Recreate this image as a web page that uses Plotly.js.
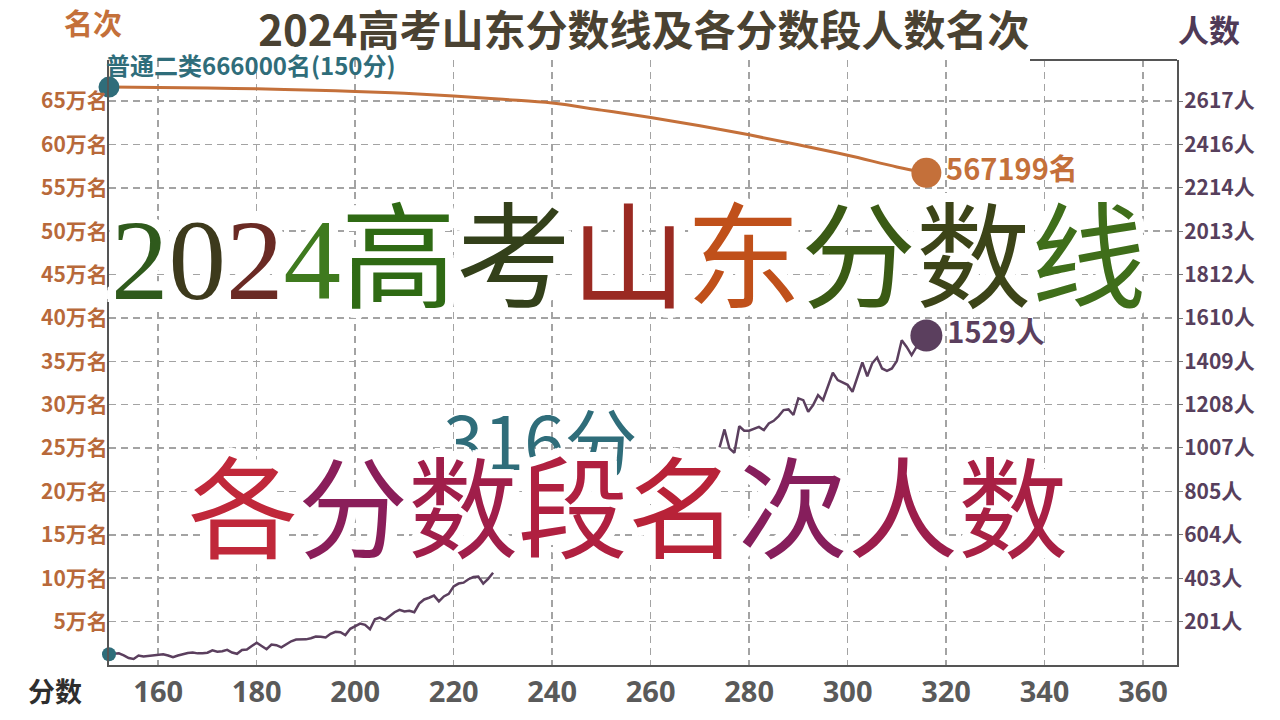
<!DOCTYPE html>
<html>
<head>
<meta charset="utf-8">
<script src="https://cdn.plot.ly/plotly-3.0.1.min.js"></script>
<style>
html,body{margin:0;padding:0;background:#fff;}
#chart{width:1280px;height:720px;}
</style>
</head>
<body>
<div id="chart"></div>
<script>
// ---------- data ----------
const scoresA = [150,151,152,153,154,155,156,157,158,159,160,161,162,163,164,165,166,167,168,169,
  170,171,172,173,174,175,176,177,178,179,180,181,182,183,184,185,186,187,188,189,
  190,191,192,193,194,195,196,197,198,199,200,201,202,203,204,205,206,207,208,209,
  210,211,212,213,214,215,216,217,218,219,220,221,222,223,224,225,226,227,228];
const countsA = [50,52,54,45,32,28,44,40,42,43,45,50,44,36,44,51,56,58,54,55,
  57,68,62,64,70,58,52,70,72,88,103,88,73,95,92,82,98,110,118,119,
  119,124,132,131,128,145,154,152,139,168,180,192,186,166,212,220,209,228,245,256,
  248,252,245,285,304,312,322,295,318,330,365,378,382,398,408,410,378,400,428];
const scoresB = [274,275,276,277,278,279,280,281,282,283,284,285,286,287,288,289,290,291,292,293,
  294,295,296,297,298,299,300,301,302,303,304,305,306,307,308,309,310,311,312,313,314,315,316];
const countsB = [1010,1093,1005,985,1108,1087,1087,1095,1105,1090,1121,1133,1155,1183,1186,1160,1237,1229,1175,1206,
  1252,1229,1290,1356,1322,1310,1300,1268,1340,1404,1340,1400,1427,1376,1365,1376,1411,1507,1476,1438,1476,1470,1529];
const rankScores = [150,160,170,180,190,200,210,220,230,240,250,260,270,280,290,300,310,316];
const rankValues = [666000,665500,664900,664000,662700,661000,658800,655800,651900,647600,639500,631000,621500,611000,599500,587500,574000,567199];
const xTicks = [160,180,200,220,240,260,280,300,320,340,360];
const leftTickVals = [50000,100000,150000,200000,250000,300000,350000,400000,450000,500000,550000,600000,650000];
const leftTickText = ['5万名','10万名','15万名','20万名','25万名','30万名','35万名','40万名','45万名','50万名','55万名','60万名','65万名'];
const rightTickVals = [201,403,604,805,1007,1208,1409,1610,1812,2013,2214,2416,2617];
const rightTickText = ['201人','403人','604人','805人','1007人','1208人','1409人','1610人','1812人','2013人','2214人','2416人','2617人'];
const titleText = '2024高考山东分数线及各分数段人数名次';
const bigLine1 = ['2','0','2','4','高','考','山','东','分','数','线'];
const bigLine2 = ['各','分','数','段','名','次','人','数'];

// ---------- styling ----------
const C_RANK = '#c4703a', C_TEAL = '#2f6d7a', C_COUNT = '#5b3f5e', C_LEFT = '#b8693a', C_RIGHT = '#573f5c';
const colors1 = ['#2f5a1c','#3d3a1c','#6a2a24','#3f7a1e','#2f6a14','#33401a','#9a2a22','#c0501a','#3a5a14','#3c4418','#3f6e1a'];
const colors2 = ['#c0283a','#8a1e5a','#a01e4a','#b02040','#b82238','#861e5c','#9c1e4c','#a82044'];
const CJK = '"Noto Sans CJK SC", "Noto Sans", sans-serif';

// plot area in pixels: x 109..1177, y 60..665
const PL = 109, PR = 1177, PT = 60, PB = 665;
const px = x => (x - PL) / (PR - PL);
const py = y => (PB - y) / (PB - PT);

function halo(r) {
  const s = [];
  [r, r * 0.6].forEach(rr => {
    for (let a = 0; a < 360; a += 20) {
      const t = a * Math.PI / 180;
      s.push((rr * Math.cos(t)).toFixed(1) + 'px ' + (rr * Math.sin(t)).toFixed(1) + 'px 0 #fff');
    }
  });
  return s.join(', ');
}
const spanLine = (chars, cols) => chars.map((c, i) => {
  const serif = /[0-9]/.test(c) ? 'font-family:Liberation Serif,DejaVu Serif,serif;' : '';
  return '<span style="' + serif + 'color:' + cols[i] + '">' + c + '</span>';
}).join('');

const lastB = scoresB.length - 1;
const lastR = rankValues.length - 1;

const traces = [
  {x: rankScores, y: rankValues, mode: 'lines', line: {color: C_RANK, width: 3, shape: 'spline', smoothing: 1}, yaxis: 'y', hoverinfo: 'skip'},
  {x: scoresA, y: countsA, mode: 'lines', line: {color: C_COUNT, width: 2.5}, yaxis: 'y2', hoverinfo: 'skip'},
  {x: scoresB, y: countsB, mode: 'lines', line: {color: C_COUNT, width: 2.5}, yaxis: 'y2', hoverinfo: 'skip'},
  {x: [rankScores[0]], y: [rankValues[0]], mode: 'markers', marker: {color: C_TEAL, size: 21}, yaxis: 'y', cliponaxis: false},
  {x: [rankScores[lastR]], y: [rankValues[lastR]], mode: 'markers+text', marker: {color: C_RANK, size: 30},
   text: [rankValues[lastR] + '名'], textposition: 'middle right', cliponaxis: false,
   textfont: {family: CJK, size: 29, color: C_RANK, weight: 700}, yaxis: 'y'},
  {x: [scoresA[0]], y: [countsA[0]], mode: 'markers', marker: {color: C_TEAL, size: 14}, yaxis: 'y2', cliponaxis: false},
  {x: [scoresB[lastB]], y: [countsB[lastB]], mode: 'markers+text', marker: {color: C_COUNT, size: 32},
   text: [countsB[lastB] + '人'], textposition: 'middle right', cliponaxis: false,
   textfont: {family: CJK, size: 29, color: C_COUNT, weight: 700}, yaxis: 'y2'}
];

const grid = {showgrid: true, gridcolor: '#a3a3a3', gridwidth: 1.5, griddash: '7px,5px', zeroline: false};

const layout = {
  width: 1280, height: 720,
  margin: {l: PL, r: 1280 - PR, t: PT, b: 720 - PB},
  paper_bgcolor: '#fff', plot_bgcolor: '#fff',
  showlegend: false,
  title: {text: titleText, x: 0.503, xref: 'container', y: 1 - 31 / 720, yref: 'container', yanchor: 'middle', xanchor: 'center',
          font: {family: CJK, size: 42, color: '#4a4232', weight: 700}},
  xaxis: Object.assign({}, grid, {range: [150, 366.9], tickvals: xTicks, ticks: '', showline: true, linecolor: '#555', linewidth: 2,
    tickfont: {family: '"Liberation Sans Narrow", "Open Sans", sans-serif', size: 29, color: '#5a5a5a', weight: 700}}),
  yaxis: Object.assign({}, grid, {range: [0, 697250], tickvals: leftTickVals, ticktext: leftTickText, ticks: '', showline: true,
    linecolor: '#555', linewidth: 2, ticklabelstandoff: -5,
    tickfont: {family: CJK, size: 21, color: C_LEFT, weight: 700}}),
  yaxis2: {overlaying: 'y', side: 'right', range: [0, 697250 * 2617 / 650000], tickvals: rightTickVals, ticktext: rightTickText,
    showgrid: false, zeroline: false, showline: true, linecolor: '#555', linewidth: 2, ticks: 'outside', ticklen: 4, tickcolor: '#777',
    ticklabelstandoff: -3,
    tickfont: {family: CJK, size: 21, color: C_RIGHT, weight: 700}},
  shapes: [
    {type: 'line', xref: 'paper', yref: 'paper', x0: px(1030), x1: 1, y0: 1, y1: 1, line: {color: '#555', width: 2}}
  ],
  annotations: [
    {xref: 'x', yref: 'y', x: rankScores[0], y: rankValues[0], text: '普通二类' + rankValues[0] + '名(' + rankScores[0] + '分)',
     showarrow: false, xanchor: 'left', yanchor: 'bottom', xshift: -5, yshift: 3,
     font: {family: CJK, size: 24, color: C_TEAL, weight: 700}},
    {xref: 'paper', yref: 'paper', x: px(93), y: py(22), text: '名次', showarrow: false, xanchor: 'center', yanchor: 'middle',
     font: {family: CJK, size: 29, color: C_RANK, weight: 700}},
    {xref: 'paper', yref: 'paper', x: px(1209), y: py(28), text: '人数', showarrow: false, xanchor: 'center', yanchor: 'middle',
     font: {family: CJK, size: 31, color: '#4f3a57', weight: 700}},
    {xref: 'paper', yref: 'paper', x: px(55), y: py(690), text: '分数', showarrow: false, xanchor: 'center', yanchor: 'middle',
     font: {family: CJK, size: 27, color: '#2e2e2e', weight: 700}},
    {xref: 'paper', yref: 'paper', x: px(540), y: py(438), text: scoresB[lastB] + '分', showarrow: false, xanchor: 'center', yanchor: 'middle',
     font: {family: CJK, size: 73, color: C_TEAL}},
    {xref: 'paper', yref: 'paper', x: px(628), y: py(249), text: spanLine(bigLine1, colors1), showarrow: false, xanchor: 'center', yanchor: 'middle',
     font: {family: CJK, size: 115, color: '#2f5a1c', shadow: halo(9)}},
    {xref: 'paper', yref: 'paper', x: px(628), y: py(502), text: spanLine(bigLine2, colors2), showarrow: false, xanchor: 'center', yanchor: 'middle',
     font: {family: CJK, size: 110, color: '#a01e4a', shadow: halo(9)}}
  ]
};

Plotly.newPlot('chart', traces, layout, {displayModeBar: false, staticPlot: true});
</script>
</body>
</html>
